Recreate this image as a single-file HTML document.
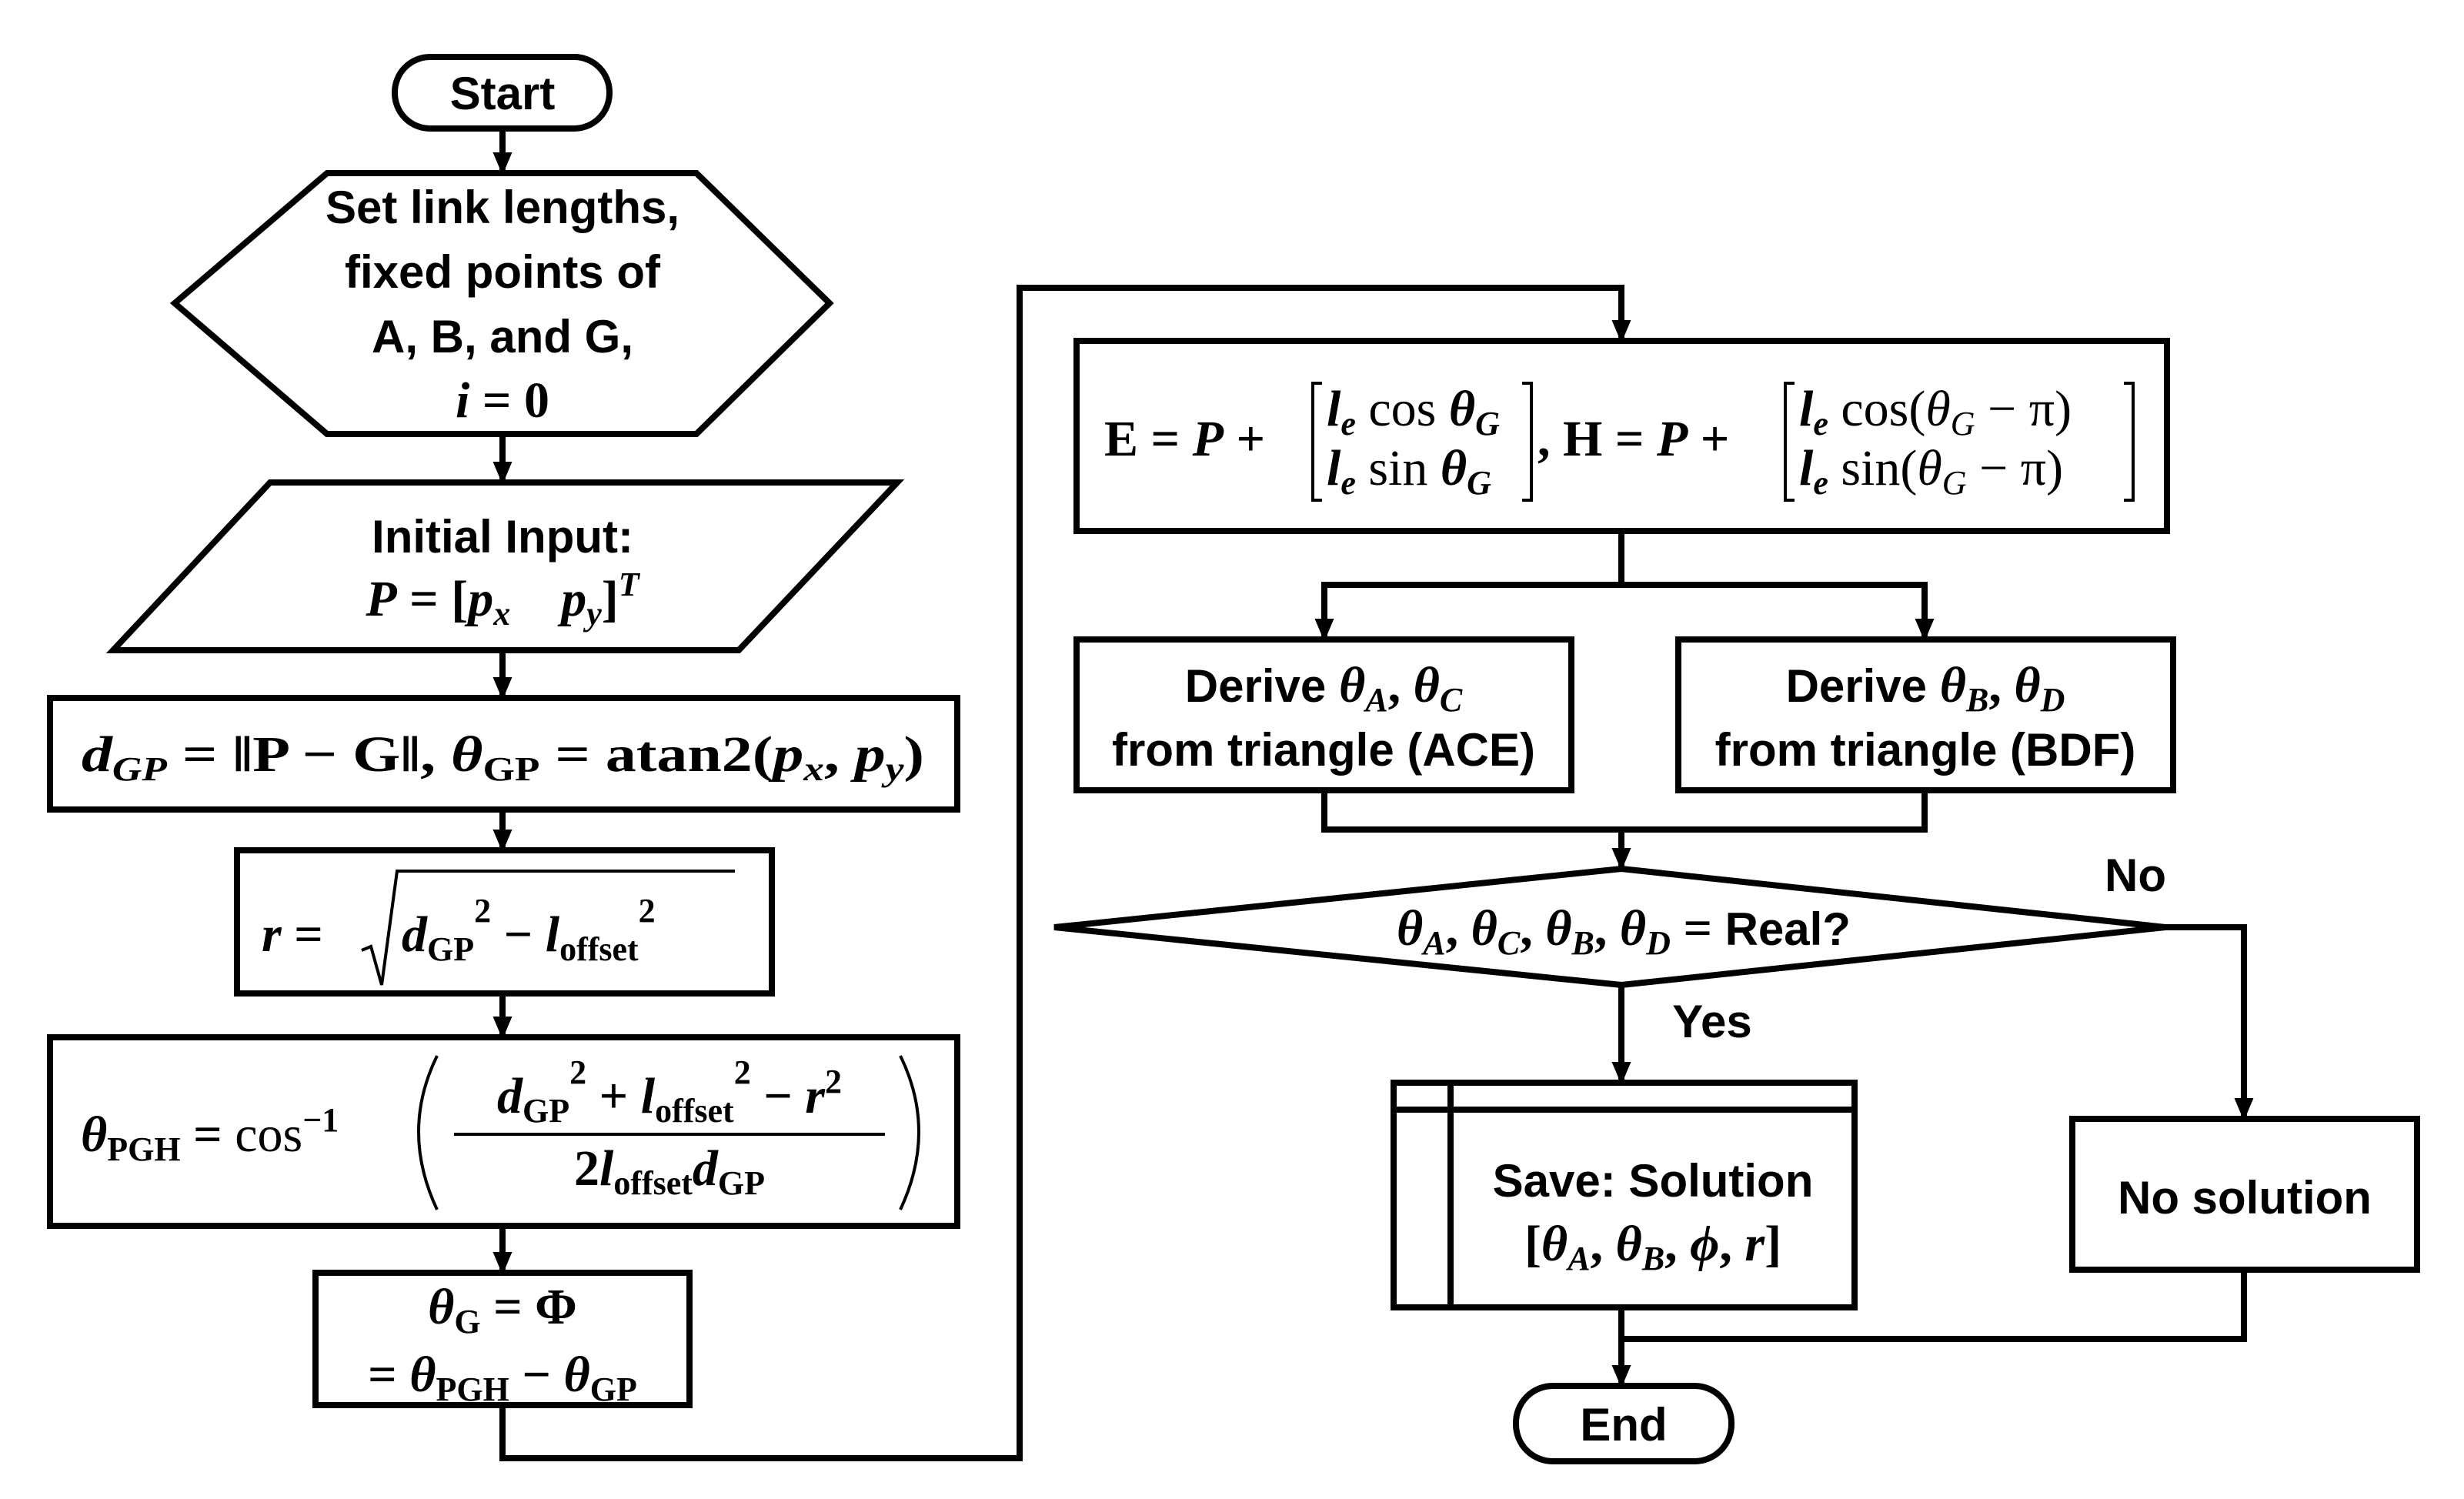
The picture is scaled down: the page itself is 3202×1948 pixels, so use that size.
<!DOCTYPE html>
<html><head><meta charset="utf-8"><style>
html,body{margin:0;padding:0;background:#fff;}
svg{display:block}
.t{font-family:"Liberation Sans Narrow","Liberation Sans",sans-serif;font-weight:bold;font-size:60px;fill:#000}
.m{font-family:"Liberation Serif",serif;font-weight:bold;font-size:66px;fill:#000}
.i{font-style:italic}
.s{font-size:44px}
</style></head><body>
<svg width="3202" height="1948" viewBox="0 0 3202 1948" xmlns="http://www.w3.org/2000/svg">
<g fill="none" stroke="#000" stroke-width="8">
<g>
<path d="M653 167 V225"/><path d="M642 199 h22 l-11 26 z" fill="#000" stroke-width="2"/>
<path d="M653 564 V627"/><path d="M642 601 h22 l-11 26 z" fill="#000" stroke-width="2"/>
<path d="M653 845 V907"/><path d="M642 881 h22 l-11 26 z" fill="#000" stroke-width="2"/>
<path d="M653 1052 V1105"/><path d="M642 1079 h22 l-11 26 z" fill="#000" stroke-width="2"/>
<path d="M653 1291 V1348"/><path d="M642 1322 h22 l-11 26 z" fill="#000" stroke-width="2"/>
<path d="M653 1593 V1654"/><path d="M642 1628 h22 l-11 26 z" fill="#000" stroke-width="2"/>
<path d="M653 1826 V1895 H1325 V374 H2107 V443"/><path d="M2096 417 h22 l-11 26 z" fill="#000" stroke-width="2"/>
<path d="M2107 690 V760 M1721 831 V760 H2501 V831"/>
<path d="M1710 805 h22 l-11 26 z" fill="#000" stroke-width="2"/><path d="M2490 805 h22 l-11 26 z" fill="#000" stroke-width="2"/>
<path d="M1721 1027 V1078 H2501 V1027 M2107 1078 V1129"/><path d="M2096 1103 h22 l-11 26 z" fill="#000" stroke-width="2"/>
<path d="M2107 1280 V1407"/><path d="M2096 1381 h22 l-11 26 z" fill="#000" stroke-width="2"/>
<path d="M2814 1205 H2916 V1454"/><path d="M2905 1428 h22 l-11 26 z" fill="#000" stroke-width="2"/>
<path d="M2916 1650 V1740 H2107 M2107 1699 V1801"/><path d="M2096 1775 h22 l-11 26 z" fill="#000" stroke-width="2"/>
</g>
<rect x="513" y="74" width="279" height="93" rx="46" fill="#fff"/>
<polygon points="425,225 905,225 1078,394 905,564 425,564 227,394" fill="#fff"/>
<polygon points="351,627 1166,627 960,845 147,845" fill="#fff"/>
<rect x="65" y="907" width="1179" height="145" fill="#fff"/>
<rect x="308" y="1105" width="695" height="186" fill="#fff"/>
<rect x="65" y="1348" width="1179" height="245" fill="#fff"/>
<rect x="410" y="1654" width="486" height="172" fill="#fff"/>
<rect x="1399" y="443" width="1417" height="247" fill="#fff"/>
<rect x="1399" y="831" width="643" height="196" fill="#fff"/>
<rect x="2181" y="831" width="643" height="196" fill="#fff"/>
<polygon points="2107,1129 2814,1205 2107,1280 1370,1205" fill="#fff"/>
<rect x="1811" y="1407" width="599" height="292" fill="#fff"/>
<path d="M1885 1407 V1699 M1811 1442 H2410"/>
<rect x="2693" y="1454" width="448" height="196" fill="#fff"/>
<rect x="1970" y="1801" width="280" height="98" rx="48" fill="#fff"/>
<path d="M470 1235 L482 1230 L496 1280 L516 1132 H955" stroke-width="4"/>
<path d="M590 1474 H1150" stroke-width="4"/>
<path d="M568 1372 Q520 1470 568 1572 M1170 1372 Q1218 1470 1170 1572" stroke-width="4"/>
<!-- matrix brackets -->
<path d="M1718 498 H1706 V650 H1718 M1978 498 H1990 V650 H1978 M2332 498 H2320 V650 H2332 M2760 498 H2772 V650 H2760" stroke-width="4"/>
</g>
<text class="t" x="653" y="142" text-anchor="middle">Start</text>
<text class="t" x="653" y="290" text-anchor="middle">Set link lengths,</text>
<text class="t" x="653" y="374" text-anchor="middle">fixed points of</text>
<text class="t" x="653" y="458" text-anchor="middle">A, B, and G,</text>
<text class="m" x="653" y="542" text-anchor="middle"><tspan class="i">i</tspan> = 0</text>
<text class="t" x="653" y="718" text-anchor="middle">Initial Input:</text>
<text class="m" x="653" y="800" text-anchor="middle"><tspan class="i">P</tspan> = [<tspan class="i">p</tspan><tspan class="s i" dy="12">x</tspan><tspan dy="-12">&#160;&#160;&#160;&#160;</tspan><tspan class="i">p</tspan><tspan class="s i" dy="12">y</tspan><tspan dy="-12">]</tspan><tspan class="s i" dy="-26">T</tspan></text>
<text class="m" x="106" y="1002" textLength="1095" lengthAdjust="spacingAndGlyphs"><tspan class="i">d</tspan><tspan class="s i" dy="12">GP</tspan><tspan dy="-12"> = ‖P − G‖, </tspan><tspan class="i">θ</tspan><tspan class="s" dy="12">GP</tspan><tspan dy="-12"> = atan2(</tspan><tspan class="i">p</tspan><tspan class="s i" dy="12">x</tspan><tspan dy="-12">, </tspan><tspan class="i">p</tspan><tspan class="s i" dy="12">y</tspan><tspan dy="-12">)</tspan></text>
<text class="m" x="340" y="1236"><tspan class="i">r</tspan> =</text>
<text class="m" x="522" y="1236"><tspan class="i">d</tspan><tspan class="s" dy="12">GP</tspan><tspan class="s" dy="-50">2</tspan><tspan dy="38"> − </tspan><tspan class="i">l</tspan><tspan class="s" dy="12">offset</tspan><tspan class="s" dy="-50">2</tspan></text>
<text class="m" x="105" y="1496"><tspan class="i">θ</tspan><tspan class="s" dy="12">PGH</tspan><tspan dy="-12"> = </tspan><tspan font-weight="normal">cos</tspan><tspan class="s" dy="-26">−1</tspan></text>
<text class="m" x="870" y="1446" text-anchor="middle"><tspan class="i">d</tspan><tspan class="s" dy="12">GP</tspan><tspan class="s" dy="-50">2</tspan><tspan dy="38"> + </tspan><tspan class="i">l</tspan><tspan class="s" dy="12">offset</tspan><tspan class="s" dy="-50">2</tspan><tspan dy="38"> − </tspan><tspan class="i">r</tspan><tspan class="s" dy="-26">2</tspan></text>
<text class="m" x="870" y="1540" text-anchor="middle">2<tspan class="i">l</tspan><tspan class="s" dy="12">offset</tspan><tspan class="i" dy="-12">d</tspan><tspan class="s" dy="12">GP</tspan></text>
<text class="m" x="653" y="1720" text-anchor="middle"><tspan class="i">θ</tspan><tspan class="s" dy="12">G</tspan><tspan dy="-12"> = Φ</tspan></text>
<text class="m" x="653" y="1808" text-anchor="middle">= <tspan class="i">θ</tspan><tspan class="s" dy="12">PGH</tspan><tspan dy="-12"> − </tspan><tspan class="i">θ</tspan><tspan class="s" dy="12">GP</tspan></text>
<text class="m" x="1435" y="592">E = <tspan class="i">P</tspan> +</text>
<text class="m" x="1724" y="553"><tspan class="i">l</tspan><tspan class="s i" dy="12">e</tspan><tspan dy="-12" font-weight="normal"> cos </tspan><tspan class="i">θ</tspan><tspan class="s i" dy="12">G</tspan></text>
<text class="m" x="1724" y="630"><tspan class="i">l</tspan><tspan class="s i" dy="12">e</tspan><tspan dy="-12" font-weight="normal"> sin </tspan><tspan class="i">θ</tspan><tspan class="s i" dy="12">G</tspan></text>
<text class="m" x="1998" y="592">, H = <tspan class="i">P</tspan> +</text>
<text class="m" x="2338" y="553"><tspan class="i">l</tspan><tspan class="s i" dy="12">e</tspan><tspan dy="-12" font-weight="normal"> cos(<tspan font-style="italic">θ</tspan></tspan><tspan class="s i" dy="12" font-weight="normal">G</tspan><tspan dy="-12" font-weight="normal"> − π)</tspan></text>
<text class="m" x="2338" y="630"><tspan class="i">l</tspan><tspan class="s i" dy="12">e</tspan><tspan dy="-12" font-weight="normal"> sin(<tspan font-style="italic">θ</tspan></tspan><tspan class="s i" dy="12" font-weight="normal">G</tspan><tspan dy="-12" font-weight="normal"> − π)</tspan></text>
<text class="t" x="1720" y="912" text-anchor="middle">Derive <tspan class="m i">θ</tspan><tspan class="m s i" dy="12">A</tspan><tspan dy="-12" class="m">, </tspan><tspan class="m i">θ</tspan><tspan class="m s i" dy="12">C</tspan></text>
<text class="t" x="1720" y="995" text-anchor="middle">from triangle (ACE)</text>
<text class="t" x="2502" y="912" text-anchor="middle">Derive <tspan class="m i">θ</tspan><tspan class="m s i" dy="12">B</tspan><tspan dy="-12" class="m">, </tspan><tspan class="m i">θ</tspan><tspan class="m s i" dy="12">D</tspan></text>
<text class="t" x="2502" y="995" text-anchor="middle">from triangle (BDF)</text>
<text class="t" x="2110" y="1228" text-anchor="middle"><tspan class="m i">θ</tspan><tspan class="m s i" dy="12">A</tspan><tspan dy="-12" class="m">, </tspan><tspan class="m i">θ</tspan><tspan class="m s i" dy="12">C</tspan><tspan dy="-12" class="m">, </tspan><tspan class="m i">θ</tspan><tspan class="m s i" dy="12">B</tspan><tspan dy="-12" class="m">, </tspan><tspan class="m i">θ</tspan><tspan class="m s i" dy="12">D</tspan><tspan dy="-12" class="m"> = </tspan> Real?</text>
<text class="t" x="2775" y="1158" text-anchor="middle">No</text>
<text class="t" x="2225" y="1348" text-anchor="middle">Yes</text>
<text class="t" x="2148" y="1555" text-anchor="middle">Save: Solution</text>
<text class="m" x="2148" y="1638" text-anchor="middle">[<tspan class="i">θ</tspan><tspan class="s i" dy="12">A</tspan><tspan dy="-12">, </tspan><tspan class="i">θ</tspan><tspan class="s i" dy="12">B</tspan><tspan dy="-12">, </tspan><tspan class="i">ϕ</tspan>, <tspan class="i">r</tspan>]</text>
<text class="t" x="2917" y="1577" text-anchor="middle">No solution</text>
<text class="t" x="2110" y="1872" text-anchor="middle">End</text>
</svg>
</body></html>
